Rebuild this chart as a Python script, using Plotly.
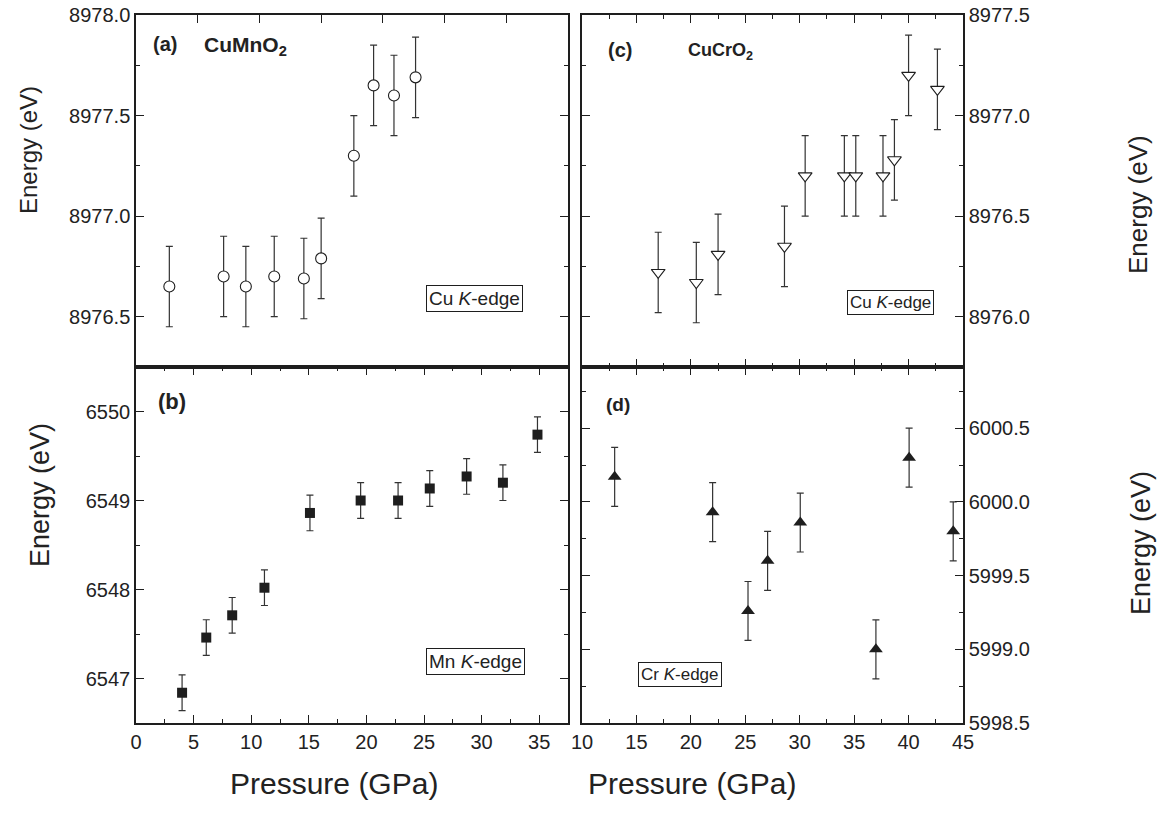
import plotly.graph_objects as go

# ---------------- data ----------------
a_pressure = [2.7, 7.1, 8.9, 11.2, 13.6, 15.0, 17.65, 19.25, 20.9, 22.65]
a_energy = [8976.65, 8976.70, 8976.65, 8976.70, 8976.69, 8976.79, 8977.30, 8977.65, 8977.60, 8977.69]
a_err = [0.2, 0.2, 0.2, 0.2, 0.2, 0.2, 0.2, 0.2, 0.2, 0.2]

b_pressure = [4.0, 6.1, 8.35, 11.15, 15.1, 19.5, 22.75, 25.5, 28.7, 31.85, 34.85]
b_energy = [6546.84, 6547.46, 6547.71, 6548.02, 6548.86, 6549.00, 6549.00, 6549.135, 6549.27, 6549.20, 6549.74]
b_err = [0.2, 0.2, 0.2, 0.2, 0.2, 0.2, 0.2, 0.2, 0.2, 0.2, 0.2]

c_pressure = [17.0, 20.5, 22.5, 28.6, 30.5, 34.1, 35.15, 37.65, 38.7, 40.0, 42.65]
c_energy = [8976.22, 8976.17, 8976.31, 8976.35, 8976.70, 8976.70, 8976.70, 8976.70, 8976.78, 8977.20, 8977.13]
c_err = [0.2, 0.2, 0.2, 0.2, 0.2, 0.2, 0.2, 0.2, 0.2, 0.2, 0.2]

d_pressure = [13.0, 22.0, 25.25, 27.05, 30.05, 37.0, 40.05, 44.1]
d_energy = [6000.17, 5999.93, 5999.26, 5999.60, 5999.86, 5999.00, 6000.30, 5999.80]
d_err = [0.2, 0.2, 0.2, 0.2, 0.2, 0.2, 0.2, 0.2]

x_title = "Pressure (GPa)"
y_title = "Energy (eV)"

# ---------------- layout helpers ----------------
W, H = 1170, 815
FONT = "Liberation Sans, Arial, sans-serif"
INK = "#1e1e1e"


def px(x):
    return x / W


def py(y):
    return 1 - y / H


LX = [px(136), px(568)]
RX = [px(582), px(963)]
TY = [py(367), py(15)]
BY = [py(723), py(367)]

fig = go.Figure()

err_style = dict(type="data", visible=True, width=3.5, thickness=1.2, color="#333333")

fig.add_trace(go.Scatter(
    x=a_pressure, y=a_energy, mode="markers", xaxis="x", yaxis="y",
    error_y=dict(array=a_err, **err_style),
    marker=dict(symbol="circle", size=11, color="white", line=dict(color=INK, width=1.1)),
    showlegend=False))
fig.add_trace(go.Scatter(
    x=b_pressure, y=b_energy, mode="markers", xaxis="x2", yaxis="y2",
    error_y=dict(array=b_err, **err_style),
    marker=dict(symbol="square", size=10, color=INK, line=dict(width=0)),
    showlegend=False))
fig.add_trace(go.Scatter(
    x=c_pressure, y=c_energy, mode="markers", xaxis="x3", yaxis="y3",
    error_y=dict(array=c_err, **err_style),
    marker=dict(symbol="triangle-down", size=12, color="white", line=dict(color=INK, width=1.1)),
    showlegend=False))
fig.add_trace(go.Scatter(
    x=d_pressure, y=d_energy, mode="markers", xaxis="x4", yaxis="y4",
    error_y=dict(array=d_err, **err_style),
    marker=dict(symbol="triangle-up", size=12, color=INK, line=dict(width=0)),
    showlegend=False))

tickfont = dict(family=FONT, size=20, color="#222222")
common = dict(showgrid=False, zeroline=False, showline=True, linecolor=INK,
              linewidth=1.5, ticks="inside", tickcolor=INK, tickwidth=1.2,
              ticklen=8, tickfont=tickfont, fixedrange=True)


def minor(step):
    return dict(ticks="inside", dtick=step, ticklen=4, tickcolor=INK, tickwidth=1.2)


fig.update_layout(
    width=W, height=H, margin=dict(l=0, r=0, t=0, b=0, autoexpand=False),
    paper_bgcolor="white", plot_bgcolor="white",
    font=dict(family=FONT, color="#222222"),
    # panel (a)
    xaxis=dict(domain=LX, anchor="y", range=[0, 35], dtick=5, side="top",
               showticklabels=False, mirror=True, **common),
    xaxis5=dict(overlaying="x", anchor="y", range=[0, 37.5], dtick=5, side="bottom",
                showticklabels=False, minor=minor(2.5), **{**common, "showline": False}),
    yaxis=dict(domain=TY, anchor="x", range=[8976.25, 8978.0], dtick=0.5,
               tickformat=".1f", mirror="ticks", minor=minor(0.25), **common),
    # panel (b)
    xaxis2=dict(domain=LX, anchor="y2", range=[0, 37.5], dtick=5, mirror="ticks",
                minor=minor(2.5), **common),
    yaxis2=dict(domain=BY, anchor="x2", range=[6546.5, 6550.5], dtick=1,
                tickformat="d", mirror="ticks", minor=minor(0.5), **common),
    # panel (c)
    xaxis3=dict(domain=RX, anchor="y3", range=[10, 45], dtick=5, mirror="ticks",
                showticklabels=False, minor=minor(2.5), **common),
    yaxis3=dict(domain=TY, anchor="x3", range=[8975.75, 8977.5], dtick=0.5, side="right",
                tickformat=".1f", mirror="ticks", minor=minor(0.25), **common),
    # panel (d)
    xaxis4=dict(domain=RX, anchor="y4", range=[10, 45], dtick=5, mirror="ticks",
                minor=minor(2.5), **common),
    yaxis4=dict(domain=BY, anchor="x4", range=[5998.5, 6000.915], dtick=0.5, side="right",
                tickformat=".1f", mirror="ticks", minor=minor(0.25), **common),
)

ann = []


def add_text(x, y, text, size, xanchor="center", angle=0, box=False):
    d = dict(xref="paper", yref="paper", x=px(x), y=py(y), text=text, showarrow=False,
             xanchor=xanchor, yanchor="middle", textangle=angle,
             font=dict(family=FONT, size=size, color="#222222"))
    if box:
        d.update(bordercolor=INK, borderwidth=1, borderpad=2, bgcolor="white")
    ann.append(d)


# axis titles
add_text(28, 150, y_title, 24, angle=-90)
add_text(40, 495, y_title, 27, angle=-90)
add_text(1138, 205, y_title, 26, angle=-90)
add_text(1141, 543, y_title, 27, angle=-90)
add_text(334, 783, x_title, 30)
add_text(692, 783, x_title, 30)

# panel labels
add_text(151, 44, "<b>(a)</b>", 20, xanchor="left")
add_text(202, 46, "<b>CuMnO<sub>2</sub></b>", 21, xanchor="left")
add_text(156, 401, "<b>(b)</b>", 22, xanchor="left")
add_text(606, 50, "<b>(c)</b>", 20, xanchor="left")
add_text(686, 52, "<b>CuCrO<sub>2</sub></b>", 18, xanchor="left")
add_text(604, 404, "<b>(d)</b>", 19, xanchor="left")

# edge boxes
add_text(474, 298, "Cu <i>K</i>-edge", 19, box=True)
add_text(890, 302, "Cu <i>K</i>-edge", 17, box=True)
add_text(475, 661, "Mn <i>K</i>-edge", 19, box=True)
add_text(680, 674, "Cr <i>K</i>-edge", 17, box=True)

fig.update_layout(annotations=ann)

post = ("document.documentElement.style.margin='0';document.body.style.margin='0';"
        "document.body.style.overflow='hidden';"
        "var gd=document.getElementById('{plot_id}');"
        "Plotly.relayout(gd,{width:1170,height:815});")

fig.write_html("out.html", config=dict(responsive=False), post_script=post)
